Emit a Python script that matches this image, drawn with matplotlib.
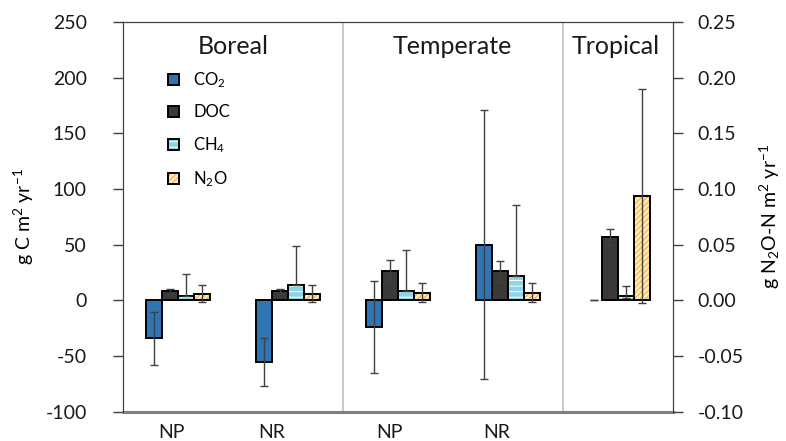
import numpy as np
import matplotlib
matplotlib.use("Agg")
from matplotlib import pyplot as plt
from matplotlib.patches import Patch

plt.rcParams['font.family'] = ['Lato', 'DejaVu Sans']
plt.rcParams['mathtext.fontset'] = 'custom'
plt.rcParams['mathtext.rm'] = 'Lato'
plt.rcParams['mathtext.it'] = 'Lato:italic'
plt.rcParams['axes.unicode_minus'] = False
plt.rcParams['hatch.linewidth'] = 0.7

# five groups: boreal NP, boreal NR, temperate NP, temperate NR, tropical
groups = ["Boreal NP", "Boreal NR", "Temperate NP", "Temperate NR", "Tropical"]
tick_labels = ["NP", "NR", "NP", "NR"]
tick_pos = [-0.06, 0.85, 1.92, 2.895]
regions = ["Boreal", "Temperate", "Tropical"]
region_x = [0.5, 2.5, 3.98]
dividers = [1.5, 3.5]

# g C m-2 yr-1
co2 = [-34, -55.5, -24, 50, 0]
co2_err = [24, 21.5, 41, 121, 0]
doc = [8, 8, 26.5, 26, 57]
doc_err = [2.5, 2.5, 9.5, 9.5, 7.5]
ch4 = [4, 13.5, 8.5, 22, 4]
ch4_err_lo = [0, 0, 0, 0, 2]
ch4_err_hi = [20, 35.5, 36.5, 63.5, 9]
# g N2O-N m-2 yr-1 (right axis)
n2o = [0.006, 0.006, 0.007, 0.007, 0.094]
n2o_err = [0.0075, 0.0075, 0.0085, 0.0085, 0.096]

fig = plt.figure(figsize=(7.86, 4.41), dpi=100)
ax = fig.add_axes([0.1565, 0.0664, 0.6993, 0.8836])
ax2 = ax.twinx()

x = np.arange(len(groups))
w = 0.1455
err_kw = dict(fmt='none', ecolor='#404040', elinewidth=1, capsize=3, capthick=1, zorder=5)


def hbar(axis, xs, vals, errs, face, hatch=None, hcol=None):
    lw = [0 if v == 0 else 1.4 for v in vals]
    axis.bar(xs, vals, w, color=face, edgecolor='none', linewidth=0, zorder=2)
    if hatch:
        axis.bar(xs, vals, w, facecolor='none', edgecolor=hcol, hatch=hatch,
                 linewidth=0, zorder=3)
    axis.bar(xs, vals, w, facecolor='none', edgecolor='black', linewidth=lw, zorder=4)
    axis.errorbar(xs, vals, yerr=errs, **err_kw)


hbar(ax, x - 1.5 * w, co2, co2_err, '#2E75B6')
hbar(ax, x - 0.5 * w, doc, doc_err, '#3B3838')
hbar(ax, x + 0.5 * w, ch4, [ch4_err_lo, ch4_err_hi], '#8FD3E6', '---', 'white')
hbar(ax2, x + 1.5 * w, n2o, n2o_err, '#FFE9B8', '//////', '#F2A93B')

ax.set_xlim(-0.5, 4.5)
ax.set_ylim(-100, 250)
ax.set_yticks(np.arange(-100, 251, 50))
r_ticks = np.arange(-0.1, 0.2501, 0.05)
ax2.set_ylim(-0.1, 0.25)
ax2.set_yticks(r_ticks)
ax2.set_yticklabels(["%.2f" % (v + 0.0) if abs(v) > 1e-9 else "0.00" for v in r_ticks])

ax.set_xticks(tick_pos)
ax.set_xticklabels(tick_labels)
ax.tick_params(axis='x', length=0, pad=9, labelsize=14, colors='#1a1a1a')
ax.tick_params(axis='y', direction='out', length=7, width=1, labelsize=14, pad=19,
               color='#404040', labelcolor='#1a1a1a')
ax2.tick_params(axis='y', direction='out', length=7, width=1, labelsize=14, pad=11,
                color='#404040', labelcolor='#1a1a1a')

for s in ['left', 'top', 'right']:
    ax.spines[s].set_color('#404040')
    ax2.spines[s].set_color('#404040')
ax.spines['bottom'].set_color('#7f7f7f')
ax.spines['bottom'].set_linewidth(2.2)
ax2.spines['bottom'].set_visible(False)

for d in dividers:
    ax.axvline(d, color='#BFBFBF', lw=1.2, zorder=1)

for name, rx in zip(regions, region_x):
    ax.text(rx, 228, name, ha='center', va='center', fontsize=18, color='#1a1a1a')

ax.set_ylabel(r'g C m$^{2}$ yr$^{-1}$', fontsize=14, labelpad=7)
ax2.set_ylabel(r'g N$_{2}$O-N m$^{2}$ yr$^{-1}$', fontsize=14, labelpad=10)

handles = [
    (Patch(facecolor='#2E75B6', edgecolor='black', linewidth=1.4),),
    (Patch(facecolor='#3B3838', edgecolor='black', linewidth=1.4),),
    (Patch(facecolor='#8FD3E6', edgecolor='white', hatch='---', linewidth=0),
     Patch(facecolor='none', edgecolor='black', linewidth=1.4)),
    (Patch(facecolor='#FFE9B8', edgecolor='#F2A93B', hatch='//////', linewidth=0),
     Patch(facecolor='none', edgecolor='black', linewidth=1.4)),
]
labels = [r'CO$_2$', 'DOC', r'CH$_4$', r'N$_2$O']
ax2.legend(handles, labels, loc='upper left', bbox_to_anchor=(0.195, 0.875),
           bbox_transform=fig.transFigure, frameon=False, fontsize=12,
           handlelength=0.65, handleheight=0.65, labelspacing=0.88, handletextpad=0.85)

fig.savefig('out.png', dpi=100)
